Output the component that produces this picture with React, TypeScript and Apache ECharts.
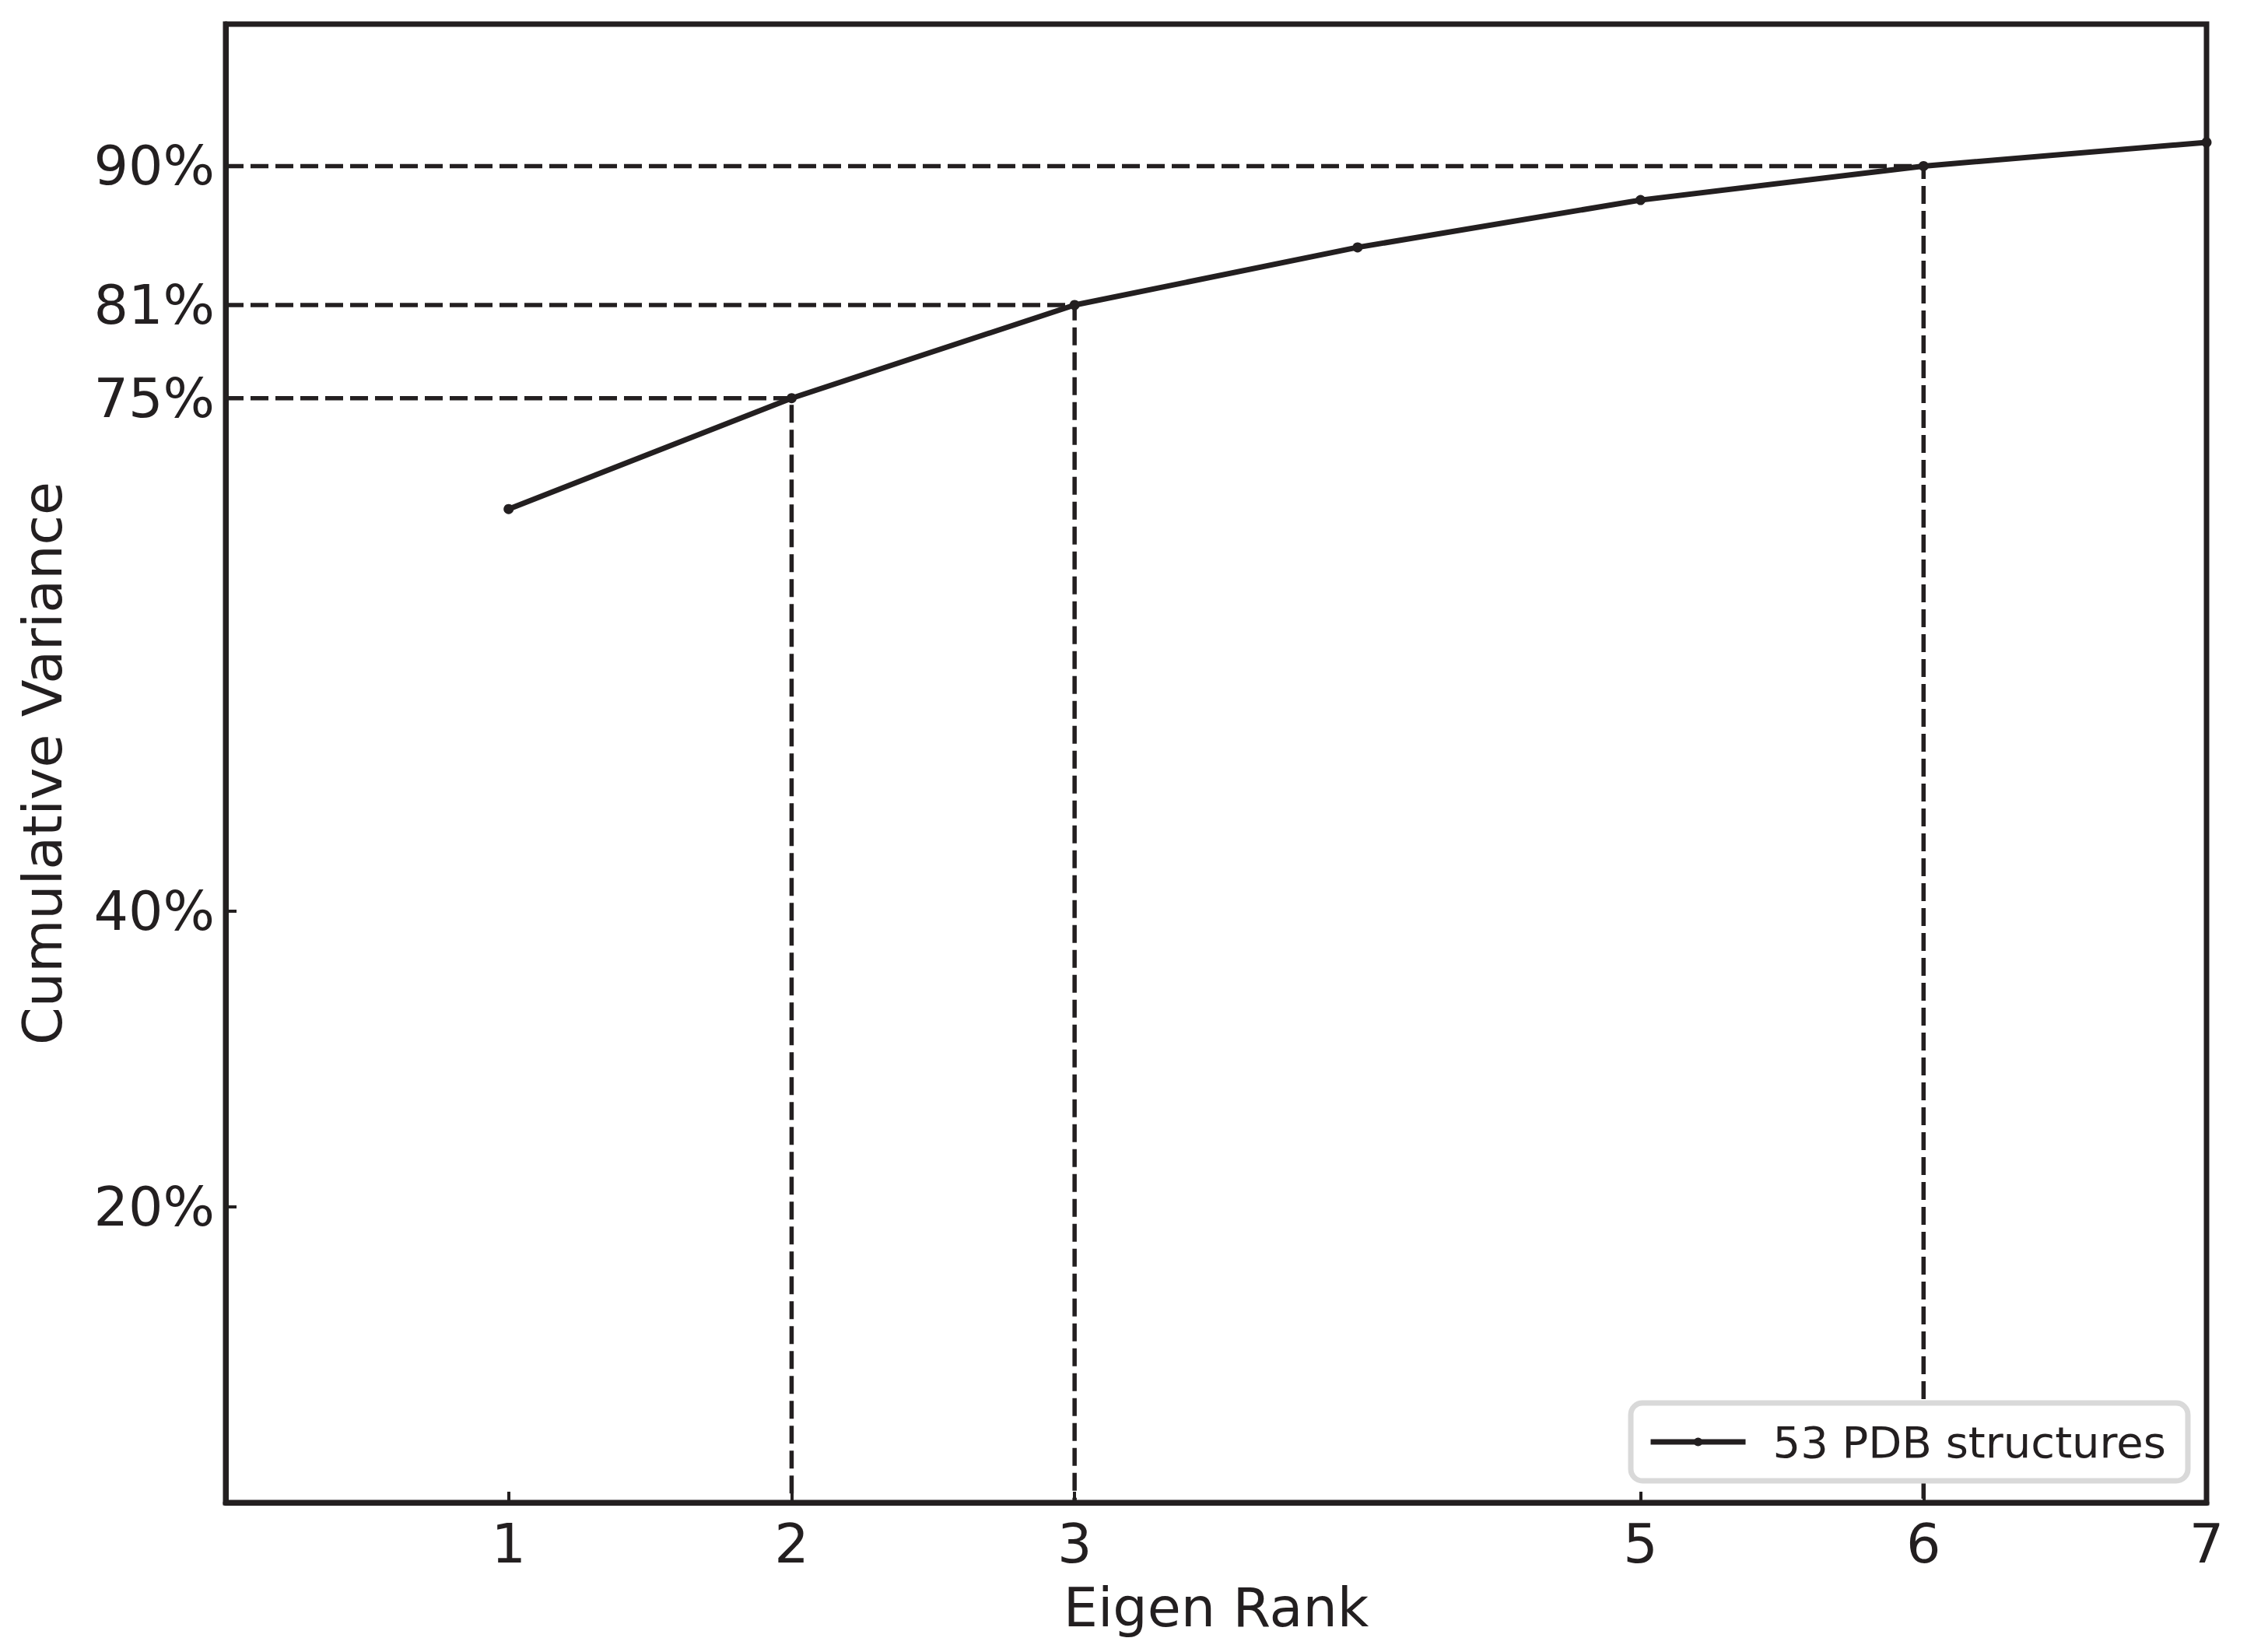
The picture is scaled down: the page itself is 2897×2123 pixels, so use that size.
import React, { useEffect, useRef } from "react";
import * as echarts from "echarts";

const ranks = [1, 2, 3, 4, 5, 6, 7];
const cumVar = [67.2, 74.7, 81.0, 84.9, 88.1, 90.4, 92.0];
const xTicks = [1, 2, 3, 5, 6, 7];
const yTickValues = [20, 40, 74.7, 81.0, 90.4];
const yTickLabels = ["20%", "40%", "75%", "81%", "90%"];
const guideRanks = [2, 3, 6];
const seriesName = "53 PDB structures";

const INK = "#231f20";
const FONT = "DejaVu Sans";

export default function App() {
  const ref = useRef<HTMLDivElement>(null);
  useEffect(() => {
    if (!ref.current) return;
    const chart = echarts.init(ref.current, undefined, { renderer: "svg" });
    const guides = guideRanks.map((g) => {
      const v = cumVar[ranks.indexOf(g)];
      return {
        type: "line",
        data: [
          [0, v],
          [g, v],
          [g, 0],
        ],
        symbol: "none",
        silent: true,
        clip: false,
        z: 1,
        lineStyle: { color: INK, width: 5.5, type: [23, 9] },
      };
    });
    const labelFor = (val: number) => {
      let best = 0;
      let bd = Infinity;
      yTickValues.forEach((t, i) => {
        const d = Math.abs(t - val);
        if (d < bd) {
          bd = d;
          best = i;
        }
      });
      return bd < 0.01 ? yTickLabels[best] : "";
    };
    chart.setOption({
      animation: false,
      backgroundColor: "#ffffff",
      textStyle: { fontFamily: FONT, color: INK },
      grid: {
        left: 290,
        right: 61,
        top: 31,
        bottom: 192,
        show: true,
        borderColor: INK,
        borderWidth: 7,
        backgroundColor: "transparent",
      },
      legend: {
        data: [seriesName],
        right: 85,
        bottom: 220,
        itemWidth: 122,
        itemHeight: 14,
        padding: [22, 28, 22, 22],
        borderColor: "#d9d9d9",
        borderWidth: 7,
        borderRadius: 15,
        backgroundColor: "#ffffff",
        lineStyle: { color: INK, width: 7 },
        itemStyle: { color: INK },
        textStyle: { fontFamily: FONT, fontSize: 56, color: INK, padding: [0, 0, 0, 30] },
      },
      xAxis: {
        type: "value",
        min: 0,
        max: 7,
        name: "Eigen Rank",
        nameLocation: "middle",
        nameGap: 100,
        nameTextStyle: { fontFamily: FONT, fontSize: 70, color: INK },
        axisLine: { show: true, lineStyle: { color: INK, width: 7 } },
        axisTick: {
          show: true,
          inside: true,
          length: 14,
          customValues: xTicks,
          lineStyle: { color: INK, width: 4 },
        },
        axisLabel: {
          show: true,
          customValues: xTicks,
          fontFamily: FONT,
          fontSize: 70,
          color: INK,
          margin: 18,
        },
        splitLine: { show: false },
      },
      yAxis: {
        type: "value",
        min: 0,
        max: 100,
        name: "Cumulative Variance",
        nameLocation: "middle",
        nameGap: 200,
        nameTextStyle: { fontFamily: FONT, fontSize: 70, color: INK },
        axisLine: { show: true, lineStyle: { color: INK, width: 7 } },
        axisTick: {
          show: true,
          inside: true,
          length: 14,
          customValues: yTickValues,
          lineStyle: { color: INK, width: 4 },
        },
        axisLabel: {
          show: true,
          customValues: yTickValues,
          formatter: (val: number) => labelFor(val),
          fontFamily: FONT,
          fontSize: 70,
          color: INK,
          margin: 14,
        },
        splitLine: { show: false },
      },
      series: [
        ...guides,
        {
          name: seriesName,
          type: "line",
          data: ranks.map((r, i) => [r, cumVar[i]]),
          symbol: "circle",
          symbolSize: 13,
          clip: false,
          z: 5,
          lineStyle: { color: INK, width: 7 },
          itemStyle: { color: INK },
        },
      ],
    });
    return () => chart.dispose();
  }, []);
  return (
    <div
      ref={ref}
      style={{ position: "fixed", left: 0, top: 0, width: 2897, height: 2123 }}
    />
  );
}
